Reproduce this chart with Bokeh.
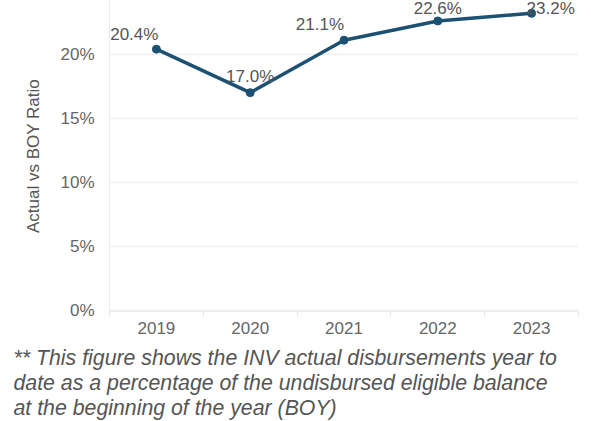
from bokeh.plotting import figure
from bokeh.models import ColumnDataSource, FixedTicker, Range1d
from bokeh.layouts import column
from bokeh.embed import file_html
from bokeh.resources import INLINE

years = ["2019", "2020", "2021", "2022", "2023"]
ratios = [20.4, 17.0, 21.1, 22.6, 23.2]
labels = ["20.4%", "17.0%", "21.1%", "22.6%", "23.2%"]
yticks = [0, 5, 10, 15, 20]
notes = ["** This figure shows the INV actual disbursements year to",
         "date as a percentage of the undisbursed eligible balance",
         "at the beginning of the year (BOY)"]

# label placement styles (not data)
label_align = ["right", "center", "right", "center", "left"]
label_dx = [2, 0, 0, 0, -5]
label_dy = [-5, -7, -6, -3, 5]

xs = [i + 0.5 for i in range(len(years))]
src = ColumnDataSource(dict(x=xs, y=ratios, lab=labels, align=label_align,
                            dx=label_dx, dy=label_dy))

p = figure(width=591, height=340, output_backend="svg", toolbar_location=None,
           x_range=Range1d(0, len(years)), y_range=Range1d(-0.1, 24.2),
           min_border_left=109, min_border_right=13, min_border_top=0, min_border_bottom=29)
p.frame_align = False
p.outline_line_color = None
p.background_fill_color = "white"
p.border_fill_color = "white"

p.line("x", "y", source=src, line_color="#1c5174", line_width=3.5)
p.scatter("x", "y", source=src, size=8, fill_color="#1c5174", line_color="#1c5174")
p.text("x", "y", text="lab", source=src, text_align="align", x_offset="dx", y_offset="dy",
       text_baseline="bottom", text_font_size="17px", text_color="#555555",
       text_font={"value": "Liberation Sans"})

p.xgrid.grid_line_color = None
p.ygrid.grid_line_color = "#efefef"
p.ygrid.grid_line_width = 1.5
p.yaxis.ticker = FixedTicker(ticks=yticks)
p.yaxis.major_label_overrides = {t: f"{t}%" for t in yticks}
p.yaxis.axis_line_color = "#ececec"
p.yaxis.major_tick_line_color = None
p.yaxis.minor_tick_line_color = None
p.yaxis.major_label_text_font_size = "17px"
p.yaxis.major_label_text_color = "#666666"
p.yaxis.major_label_text_font = "Liberation Sans"
p.yaxis.major_label_standoff = 9
p.yaxis.axis_label = "Actual vs BOY Ratio"
p.yaxis.axis_label_text_font_style = "normal"
p.yaxis.axis_label_text_font_size = "17px"
p.yaxis.axis_label_text_color = "#555555"
p.yaxis.axis_label_text_font = "Liberation Sans"
p.yaxis.axis_label_standoff = 14

p.xaxis.ticker = FixedTicker(ticks=xs, minor_ticks=list(range(len(years) + 1)))
p.xaxis.major_label_overrides = {x: y for x, y in zip(xs, years)}
p.xaxis.axis_line_color = "#ececec"
p.xaxis.major_tick_line_color = None
p.xaxis.minor_tick_line_color = "#e6e6e6"
p.xaxis.minor_tick_in = 0
p.xaxis.minor_tick_out = 5
p.xaxis.major_label_text_font_size = "17px"
p.xaxis.major_label_text_color = "#666666"
p.xaxis.major_label_text_font = "Liberation Sans"
p.xaxis.major_label_standoff = 4

# footnote panel (pixel coordinates, y measured from its top)
fh = 81
note_src = ColumnDataSource(dict(x=[13] * len(notes), y=[29.5 + 25 * i for i in range(len(notes))],
                                 t=notes))
f = figure(width=591, height=fh, output_backend="svg", toolbar_location=None,
           x_range=Range1d(0, 591), y_range=Range1d(fh, 0),
           min_border_left=0, min_border_right=0, min_border_top=0, min_border_bottom=0)
f.frame_align = False
f.axis.visible = False
f.grid.grid_line_color = None
f.outline_line_color = None
f.text("x", "y", text="t", source=note_src, text_align="left", text_baseline="bottom",
       text_font_size="21.3px", text_font_style="italic", text_color="#555555",
       text_font={"value": "Liberation Sans"})

layout = column(p, f, spacing=0)
open("out.html", "w").write(file_html(layout, INLINE))
